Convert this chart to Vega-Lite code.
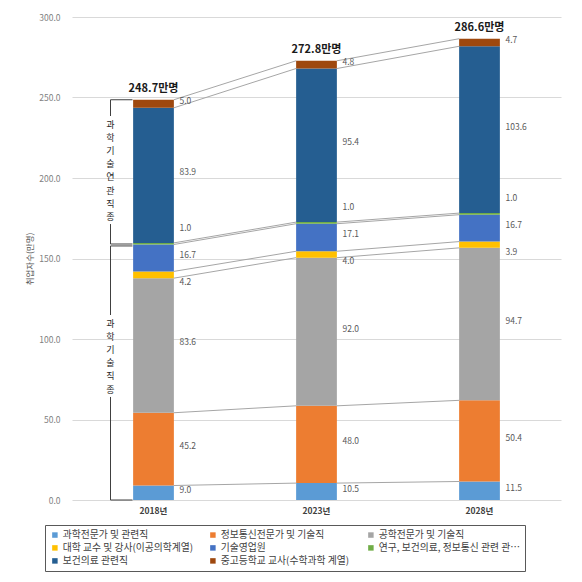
{
  "$schema": "https://vega.github.io/schema/vega-lite/v6.json",
  "autosize": {"type": "none"},
  "width": 489,
  "height": 483,
  "padding": {"left": 72, "top": 17, "right": 21, "bottom": 82},
  "background": "white",
  "config": {"font": "Noto Sans CJK KR", "view": {"stroke": null}},
  "datasets": {
    "seg": [
      {"year": "2018년", "cat": "과학전문가 및 관련직", "k": 1, "value": 9.0},
      {"year": "2018년", "cat": "정보통신전문가 및 기술직", "k": 2, "value": 45.2},
      {"year": "2018년", "cat": "공학전문가 및 기술직", "k": 3, "value": 83.6},
      {"year": "2018년", "cat": "대학 교수 및 강사(이공의학계열)", "k": 4, "value": 4.2},
      {"year": "2018년", "cat": "기술영업원", "k": 5, "value": 16.7},
      {"year": "2018년", "cat": "연구, 보건의료, 정보통신 관련 관리자", "k": 6, "value": 1.0},
      {"year": "2018년", "cat": "보건의료 관련직", "k": 7, "value": 83.9},
      {"year": "2018년", "cat": "중고등학교 교사(수학과학 계열)", "k": 8, "value": 5.0},
      {"year": "2023년", "cat": "과학전문가 및 관련직", "k": 1, "value": 10.5},
      {"year": "2023년", "cat": "정보통신전문가 및 기술직", "k": 2, "value": 48.0},
      {"year": "2023년", "cat": "공학전문가 및 기술직", "k": 3, "value": 92.0},
      {"year": "2023년", "cat": "대학 교수 및 강사(이공의학계열)", "k": 4, "value": 4.0},
      {"year": "2023년", "cat": "기술영업원", "k": 5, "value": 17.1},
      {"year": "2023년", "cat": "연구, 보건의료, 정보통신 관련 관리자", "k": 6, "value": 1.0},
      {"year": "2023년", "cat": "보건의료 관련직", "k": 7, "value": 95.4},
      {"year": "2023년", "cat": "중고등학교 교사(수학과학 계열)", "k": 8, "value": 4.8},
      {"year": "2028년", "cat": "과학전문가 및 관련직", "k": 1, "value": 11.5},
      {"year": "2028년", "cat": "정보통신전문가 및 기술직", "k": 2, "value": 50.4},
      {"year": "2028년", "cat": "공학전문가 및 기술직", "k": 3, "value": 94.7},
      {"year": "2028년", "cat": "대학 교수 및 강사(이공의학계열)", "k": 4, "value": 3.9},
      {"year": "2028년", "cat": "기술영업원", "k": 5, "value": 16.7},
      {"year": "2028년", "cat": "연구, 보건의료, 정보통신 관련 관리자", "k": 6, "value": 1.0},
      {"year": "2028년", "cat": "보건의료 관련직", "k": 7, "value": 103.6},
      {"year": "2028년", "cat": "중고등학교 교사(수학과학 계열)", "k": 8, "value": 4.7}
    ],
    "conn": [
      {"from": "2018년", "to": "2023년", "a": 9.0, "b": 10.5},
      {"from": "2018년", "to": "2023년", "a": 54.2, "b": 58.5},
      {"from": "2018년", "to": "2023년", "a": 137.8, "b": 150.5},
      {"from": "2018년", "to": "2023년", "a": 142.0, "b": 154.5},
      {"from": "2018년", "to": "2023년", "a": 158.7, "b": 171.6},
      {"from": "2018년", "to": "2023년", "a": 159.7, "b": 172.6},
      {"from": "2018년", "to": "2023년", "a": 243.6, "b": 268.0},
      {"from": "2018년", "to": "2023년", "a": 248.6, "b": 272.8},
      {"from": "2023년", "to": "2028년", "a": 10.5, "b": 11.5},
      {"from": "2023년", "to": "2028년", "a": 58.5, "b": 61.9},
      {"from": "2023년", "to": "2028년", "a": 150.5, "b": 156.6},
      {"from": "2023년", "to": "2028년", "a": 154.5, "b": 160.5},
      {"from": "2023년", "to": "2028년", "a": 171.6, "b": 177.2},
      {"from": "2023년", "to": "2028년", "a": 172.6, "b": 178.2},
      {"from": "2023년", "to": "2028년", "a": 268.0, "b": 281.8},
      {"from": "2023년", "to": "2028년", "a": 272.8, "b": 286.5}
    ],
    "tot": [
      {"year": "2018년", "total": 248.6, "label": "248.7만명"},
      {"year": "2023년", "total": 272.8, "label": "272.8만명"},
      {"year": "2028년", "total": 286.5, "label": "286.6만명"}
    ],
    "brkV": [
      {"yr": "2018년", "a": 248.6, "b": 238.5},
      {"yr": "2018년", "a": 171.4, "b": 159.0},
      {"yr": "2018년", "a": 157.8, "b": 114.9},
      {"yr": "2018년", "a": 64.0, "b": 0}
    ],
    "brkH": [
      {"yr": "2018년", "a": 248.6},
      {"yr": "2018년", "a": 159.0},
      {"yr": "2018년", "a": 157.8},
      {"yr": "2018년", "a": 0}
    ],
    "brkT": [
      {"yr": "2018년", "a": 233.2, "t": "과\n학\n기\n술\n연\n관\n직\n종"},
      {"yr": "2018년", "a": 109.6, "t": "과\n학\n기\n술\n직\n종"}
    ]
  },
  "layer": [
    {
      "data": {"name": "seg"},
      "mark": {"type": "bar"},
      "encoding": {
        "x": {
          "field": "year", "type": "nominal", "sort": null,
          "scale": {"paddingInner": 0.75, "paddingOuter": 0.375},
          "axis": {"title": null, "labelAngle": 0, "domain": false, "ticks": false, "labelPadding": 6, "labelFontSize": 8.5, "labelColor": "#404040", "labelFontWeight": "bold"}
        },
        "y": {
          "field": "value", "type": "quantitative", "stack": "zero",
          "scale": {"domain": [0, 300]},
          "axis": {"values": [0, 50, 100, 150, 200, 250, 300], "format": ".1f", "title": "취업자수(만명)", "titleFontSize": 8.5, "titleFontWeight": "normal", "titleColor": "#595959", "titlePadding": 4, "labelFontSize": 8.5, "labelColor": "#7f7f7f", "domain": false, "ticks": false, "labelPadding": 12, "gridColor": "#d9d9d9"}
        },
        "color": {
          "field": "cat", "type": "nominal",
          "scale": {
            "domain": ["과학전문가 및 관련직", "정보통신전문가 및 기술직", "공학전문가 및 기술직", "대학 교수 및 강사(이공의학계열)", "기술영업원", "연구, 보건의료, 정보통신 관련 관리자", "보건의료 관련직", "중고등학교 교사(수학과학 계열)"],
            "range": ["#5B9BD5", "#ED7D31", "#A5A5A5", "#FFC000", "#4472C4", "#70AD47", "#255E91", "#9E480E"]
          },
          "legend": {"title": null, "orient": "none", "direction": "horizontal", "legendX": -27, "legendY": 508, "columns": 3, "symbolType": "square", "symbolSize": 30, "labelFontSize": 9.8, "labelColor": "#404040", "labelLimit": 146, "strokeColor": "#595959", "padding": 5, "rowPadding": 2, "columnPadding": 4, "gridAlign": "all", "labelOffset": 3}
        },
        "order": {"field": "k", "type": "quantitative"}
      }
    },
    {
      "data": {"name": "conn"},
      "mark": {"type": "rule", "color": "#a6a6a6", "strokeWidth": 1, "xOffset": 20.4, "x2Offset": -20.4},
      "encoding": {
        "x": {"field": "from", "type": "nominal"},
        "x2": {"field": "to"},
        "y": {"field": "a", "type": "quantitative"},
        "y2": {"field": "b"}
      }
    },
    {
      "data": {"name": "seg"},
      "mark": {"type": "text", "align": "left", "baseline": "middle", "xOffset": 26, "dy": -3, "fontSize": 8.5, "color": "#595959"},
      "encoding": {
        "x": {"field": "year", "type": "nominal"},
        "y": {"field": "value", "type": "quantitative", "stack": "zero", "bandPosition": 0.5},
        "detail": {"field": "cat"},
        "order": {"field": "k", "type": "quantitative"},
        "text": {"field": "value", "type": "quantitative", "format": ".1f"},
        "opacity": {"condition": {"test": "datum.k == 4 || datum.k == 6", "value": 0}, "value": 1}
      }
    },
    {
      "data": {"name": "seg"},
      "mark": {"type": "text", "align": "left", "baseline": "middle", "xOffset": 26, "dy": -16, "fontSize": 8.5, "color": "#595959"},
      "encoding": {
        "x": {"field": "year", "type": "nominal"},
        "y": {"field": "value", "type": "quantitative", "stack": "zero", "bandPosition": 0.5},
        "detail": {"field": "cat"},
        "order": {"field": "k", "type": "quantitative"},
        "text": {"field": "value", "type": "quantitative", "format": ".1f"},
        "opacity": {"condition": {"test": "datum.k == 6", "value": 1}, "value": 0}
      }
    },
    {
      "data": {"name": "seg"},
      "mark": {"type": "text", "align": "left", "baseline": "middle", "xOffset": 26, "dy": 7, "fontSize": 8.5, "color": "#595959"},
      "encoding": {
        "x": {"field": "year", "type": "nominal"},
        "y": {"field": "value", "type": "quantitative", "stack": "zero", "bandPosition": 0.5},
        "detail": {"field": "cat"},
        "order": {"field": "k", "type": "quantitative"},
        "text": {"field": "value", "type": "quantitative", "format": ".1f"},
        "opacity": {"condition": {"test": "datum.k == 4", "value": 1}, "value": 0}
      }
    },
    {
      "data": {"name": "tot"},
      "mark": {"type": "text", "align": "center", "baseline": "middle", "dy": -11, "fontSize": 11, "fontWeight": "bold", "color": "#1a1a1a"},
      "encoding": {
        "x": {"field": "year", "type": "nominal"},
        "y": {"field": "total", "type": "quantitative"},
        "text": {"field": "label"}
      }
    },
    {
      "data": {"name": "brkV"},
      "mark": {"type": "rule", "color": "#404040", "strokeWidth": 1, "xOffset": -43},
      "encoding": {
        "x": {"field": "yr", "type": "nominal"},
        "y": {"field": "a", "type": "quantitative"},
        "y2": {"field": "b"}
      }
    },
    {
      "data": {"name": "brkH"},
      "mark": {"type": "rule", "color": "#404040", "strokeWidth": 1, "xOffset": -43, "x2Offset": -21},
      "encoding": {
        "x": {"field": "yr", "type": "nominal"},
        "x2": {"field": "yr"},
        "y": {"field": "a", "type": "quantitative"}
      }
    },
    {
      "data": {"name": "brkT"},
      "mark": {"type": "text", "align": "center", "baseline": "middle", "xOffset": -43, "fontSize": 9, "lineHeight": 13.2, "lineBreak": "\n", "color": "#262626"},
      "encoding": {
        "x": {"field": "yr", "type": "nominal"},
        "y": {"field": "a", "type": "quantitative"},
        "text": {"field": "t"}
      }
    }
  ]
}
